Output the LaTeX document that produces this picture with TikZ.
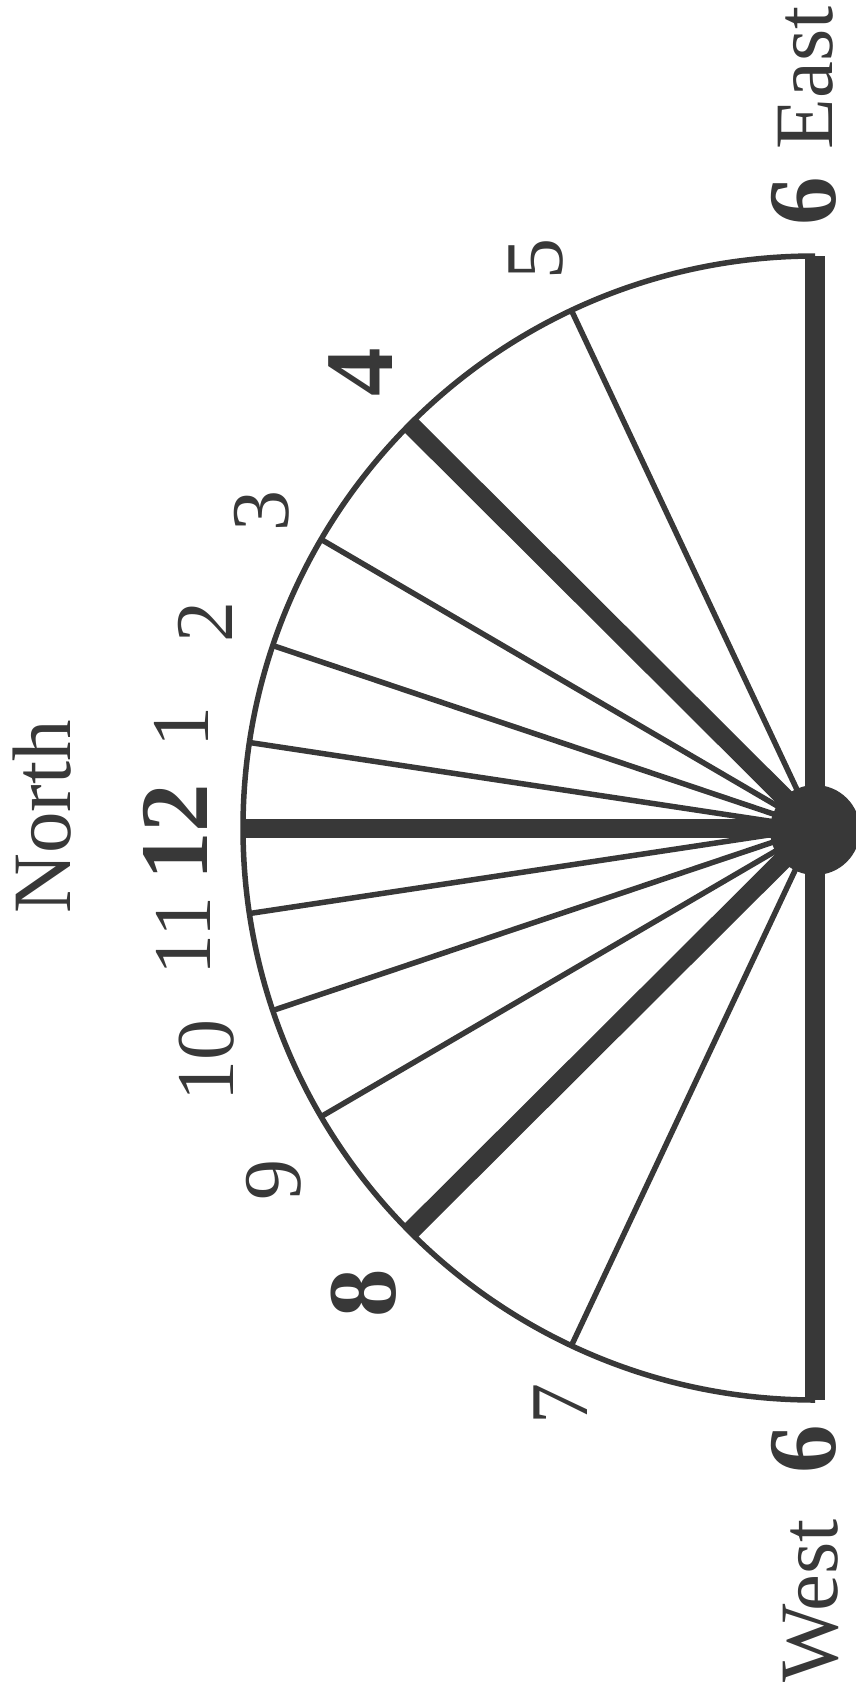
\documentclass[tikz,border=0pt]{standalone}
\usepackage{fontspec}
\setmainfont{Liberation Serif}
\definecolor{ink}{RGB}{56,56,56}
\begin{document}
\begin{tikzpicture}[x=1pt,y=1pt,
  thinhour/.style={line width=5.5pt, draw=ink},
  thickhour/.style={line width=19pt, draw=ink},
  lab/.style={rotate=90, anchor=base, inner sep=0pt, text=ink, font=\fontsize{82}{90}\selectfont},
  blab/.style={rotate=90, anchor=base, inner sep=0pt, text=ink, font=\fontsize{97}{100}\selectfont\bfseries}]
\useasboundingbox (0,0) rectangle (856,-1689);
\coordinate (c) at (815,-828);
\foreach \a in {8.6,18.6,30.3,64.8} {
  \draw[thinhour] (c) -- ++(180-\a:572);
  \draw[thinhour] (c) -- ++(180+\a:572);
}
\draw[thickhour] (c) -- ++(180:572);
\draw[thickhour] (c) -- ++(135.1:572);
\draw[thickhour] (c) -- ++(224.9:572);
\draw[line width=20pt, draw=ink] (c) ++(0,572) -- ++(0,-1144);
\draw[line width=5.5pt, draw=ink] (c) ++(90:572) arc[start angle=90, end angle=270, radius=572];
\fill[ink] (815,-830) circle[radius=45];
\node[lab, font=\fontsize{83}{90}\selectfont] (north) at (70,-817) {North};
\node[blab] (h12) at (207,-832) {12};
\node[lab] (h1) at (208,-727) {1};
\node[lab] (h2) at (232,-622) {2};
\node[lab] (h3) at (288,-511) {3};
\node[blab] (h4) at (392,-372) {4};
\node[lab] (h5) at (562,-259) {5};
\node[blab] (h6e) at (835,-201) {6};
\node[lab, font=\fontsize{83}{90}\selectfont] (east) at (832,-78) {East};
\node[lab] (h11) at (210,-936) {11};
\node[lab] (h10) at (233,-1060) {10};
\node[lab] (h9) at (300,-1180) {9};
\node[blab] (h8) at (395,-1293) {8};
\node[lab] (h7) at (587,-1404) {7};
\node[blab] (h6w) at (835,-1449) {6};
\node[lab, font=\fontsize{83}{90}\selectfont] (west) at (837,-1601) {West};
\end{tikzpicture}
\end{document}
